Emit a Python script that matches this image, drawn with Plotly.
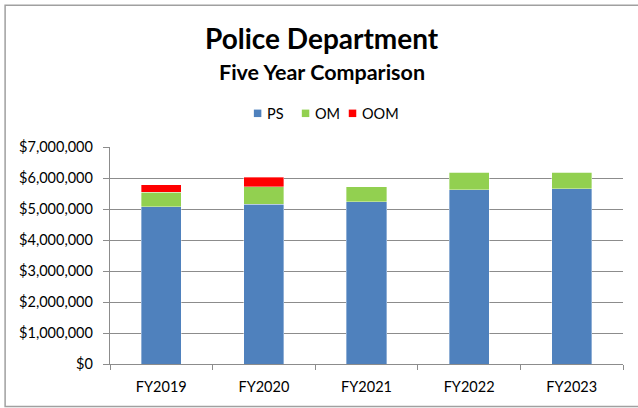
import plotly.graph_objects as go

years = ["FY2019", "FY2020", "FY2021", "FY2022", "FY2023"]
ps = [5080000, 5160000, 5240000, 5620000, 5650000]
om = [460000, 560000, 470000, 570000, 540000]
oom = [250000, 310000, 0, 0, 0]

series = [("PS", ps, "#4F81BD"), ("OM", om, "#92D050"), ("OOM", oom, "#FF0000")]

FONT = "Lato"
GRID = "#8c8c8c"

fig = go.Figure()
for name, vals, color in series:
    fig.add_trace(go.Bar(
        x=years, y=vals, name=name,
        marker=dict(color=color, line=dict(color="rgba(255,255,255,0.6)", width=0.6)),
    ))

W, H = 638, 408
L, R, T, B = 110, 14.5, 147, 43.5
ph = H - T - B
pw = W - L - R

def py(pix):
    return (H - B - pix) / ph

def px(pix):
    return (pix - L) / pw

# Legend drawn as small squares with labels, laid out in one row
legend_x = [254, 302, 349]
shapes = [dict(type="rect", xref="paper", yref="paper",
               x0=px(5), x1=px(645), y0=py(407), y1=py(5),
               line=dict(color="#a0a0a0", width=1.5), layer="below")]
annotations = [
    dict(text="<b>Police Department</b>", x=px(322), y=py(38), xref="paper", yref="paper",
         xanchor="center", yanchor="middle", showarrow=False, font=dict(size=28, family=FONT)),
    dict(text="<b>Five Year Comparison</b>", x=px(322), y=py(72), xref="paper", yref="paper",
         xanchor="center", yanchor="middle", showarrow=False, font=dict(size=21.5, family=FONT)),
]
for (name, _, color), lx in zip(series, legend_x):
    shapes.append(dict(type="rect", xref="paper", yref="paper",
                       x0=px(lx), x1=px(lx + 7.5), y0=py(117), y1=py(109.5),
                       fillcolor=color, line=dict(width=0)))
    annotations.append(dict(text=name, x=px(lx + 11), y=py(113), xref="paper", yref="paper",
                            xanchor="left", yanchor="middle", showarrow=False,
                            font=dict(size=14.5, family=FONT)))

fig.update_layout(
    width=W, height=H,
    margin=dict(l=L, r=R, t=T, b=B),
    barmode="stack", bargap=0.61,
    plot_bgcolor="white", paper_bgcolor="white",
    font=dict(family=FONT, size=14, color="#000000"),
    showlegend=False,
    xaxis=dict(showline=True, linecolor=GRID, linewidth=1.3, ticks="outside",
               tickson="boundaries", ticklen=5, tickcolor=GRID, tickfont=dict(size=14.5),
               ticklabelstandoff=9),
    yaxis=dict(range=[0, 7000000], dtick=1000000, tickprefix="$", tickformat=",",
               showgrid=True, gridcolor=GRID, gridwidth=1.3, showline=True,
               linecolor=GRID, linewidth=1.3, ticks="outside", ticklen=6, tickcolor=GRID,
               zeroline=False, tickfont=dict(size=14.5), ticklabelstandoff=7),
    annotations=annotations,
    shapes=shapes,
)

fig.write_html("out.html")
